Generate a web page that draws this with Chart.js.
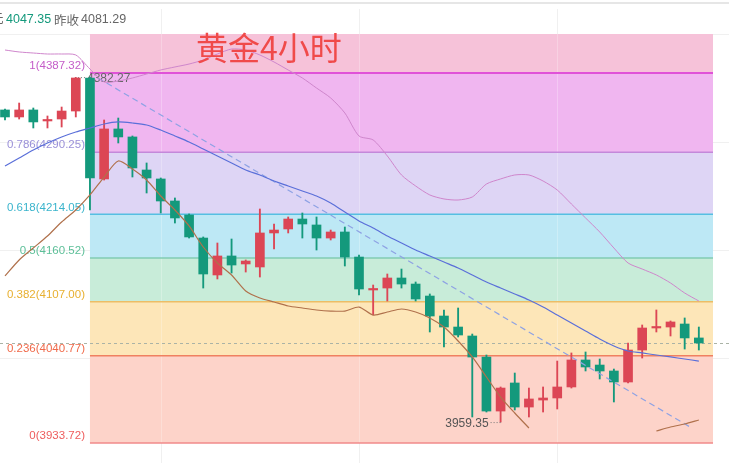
<!DOCTYPE html>
<html>
<head>
<meta charset="utf-8">
<script src="https://cdn.jsdelivr.net/npm/chart.js@4.4.1/dist/chart.umd.min.js"></script>
<style>
  html, body { margin: 0; padding: 0; background: #fff; }
  #wrap { width: 729px; height: 463px; position: relative; }
</style>
</head>
<body>
<div id="wrap"><canvas id="gold-graphic" width="729" height="463"></canvas></div>
<script>
// 4h candles, oldest first (index 0 = left edge)
const candleOpen = [4342.0, 4333.4, 4342.0, 4328.5, 4330.9, 4340.7, 4381.2, 4257.4, 4318.7, 4308.9,
    4268.4, 4257.4, 4230.4, 4213.2, 4185.0, 4139.7, 4163.0, 4153.2, 4149.5, 4191.2,
    4196.1, 4208.3, 4201.0, 4185.0, 4192.4, 4161.7, 4121.3, 4123.7, 4136.0, 4128.6,
    4113.9, 4089.4, 4075.9, 4064.9, 4039.1, 3972.9, 4007.3, 3977.8, 3986.4, 3988.9,
    4002.4, 4035.5, 4029.3, 4022.0, 4008.5, 4047.7, 4074.7, 4075.9, 4079.6, 4062.5];
const candleHigh = [4343.2, 4350.5, 4344.4, 4334.6, 4345.6, 4381.8, 4382.27, 4329.7, 4332.1, 4310.1,
    4277.0, 4258.6, 4234.1, 4214.5, 4186.3, 4178.9, 4183.8, 4158.1, 4220.6, 4202.2,
    4210.8, 4215.7, 4210.8, 4194.8, 4198.5, 4164.2, 4127.4, 4140.9, 4147.0, 4131.1,
    4116.4, 4096.8, 4099.2, 4067.3, 4041.6, 4002.4, 4019.5, 4001.1, 4002.4, 4034.2,
    4044.1, 4045.3, 4036.7, 4024.4, 4056.3, 4078.4, 4096.8, 4083.3, 4087.0, 4075.9];
const candleLow = [4329.7, 4330.9, 4319.9, 4319.9, 4321.1, 4333.4, 4219.4, 4256.1, 4301.5, 4259.8,
    4240.2, 4215.7, 4203.4, 4185.0, 4123.7, 4134.8, 4142.1, 4143.3, 4137.2, 4171.5,
    4191.2, 4185.0, 4170.3, 4182.6, 4150.7, 4115.2, 4090.6, 4107.8, 4123.7, 4107.8,
    4069.8, 4051.4, 4063.7, 3965.6, 3971.7, 3959.35, 3974.2, 3965.6, 3971.7, 3975.4,
    4001.1, 4022.0, 4012.2, 3984.0, 4007.3, 4037.9, 4069.8, 4064.9, 4048.9, 4047.7];
const candleClose = [4333.4, 4342.0, 4327.3, 4329.7, 4340.7, 4381.2, 4258.6, 4318.7, 4308.9, 4270.9,
    4258.6, 4230.4, 4209.6, 4186.3, 4140.9, 4163.0, 4151.9, 4156.8, 4191.2, 4194.8,
    4208.3, 4202.2, 4185.0, 4192.4, 4161.7, 4122.5, 4122.5, 4136.0, 4128.6, 4110.3,
    4089.4, 4075.9, 4066.1, 4039.1, 3972.9, 4001.1, 3977.8, 3987.7, 3988.9, 4002.4,
    4035.5, 4026.9, 4022.0, 4008.5, 4047.7, 4074.7, 4075.9, 4082.1, 4062.5, 4056.3];

// bollinger bands
const upperBand = [4415.5, 4413.1, 4411.8, 4410.6, 4410.6, 4409.4, 4392.2, 4376.3, 4377.5, 4381.2,
    4386.1, 4391.0, 4394.7, 4398.3, 4403.3, 4410.6, 4416.7, 4415.5, 4409.4, 4400.8,
    4391.0, 4381.2, 4368.9, 4356.7, 4338.3, 4310.1, 4305.2, 4285.6, 4262.3, 4248.8,
    4237.8, 4232.9, 4231.6, 4235.3, 4251.2, 4257.4, 4262.3, 4262.3, 4254.9, 4243.9,
    4226.7, 4209.6, 4192.4, 4172.8, 4154.4, 4147.0, 4139.7, 4129.9, 4117.6, 4107.8];
const midBand = [4273.3, 4283.1, 4292.9, 4301.5, 4308.9, 4315.0, 4319.9, 4324.8, 4327.3, 4326.0,
    4323.6, 4317.4, 4310.1, 4302.7, 4294.1, 4285.6, 4277.0, 4268.4, 4262.3, 4254.9,
    4248.8, 4242.7, 4236.5, 4227.9, 4216.9, 4205.9, 4197.3, 4187.5, 4178.9, 4170.3,
    4163.0, 4155.6, 4148.3, 4139.7, 4131.1, 4123.7, 4116.4, 4109.0, 4100.4, 4090.6,
    4080.8, 4071.0, 4061.2, 4052.6, 4046.5, 4044.1, 4041.6, 4039.2, 4036.7, 4034.2];
const lowerBand = [4138.5, 4158.1, 4172.8, 4187.5, 4204.7, 4219.4, 4237.8, 4259.8, 4279.4, 4269.6,
    4256.1, 4236.5, 4219.4, 4199.8, 4174.0, 4154.4, 4139.7, 4120.1, 4111.5, 4106.6,
    4101.7, 4099.2, 4096.8, 4095.5, 4095.5, 4100.4, 4090.6, 4094.3, 4098.0, 4094.3,
    4087.0, 4075.9, 4058.8, 4039.2, 4014.6, 3990.1, 3970.5, 3952.1, null, null,
    null, null, null, null, null, null, 3948.4, 3953.3, 3957.0, 3961.9];

// dashed trend line: [index, price]
const trendStart = [6.57, 4381.2];
const trendEnd = [48.5, 3952.1];

// fibonacci retracement
const fibRatios = ['1', '0.786', '0.618', '0.5', '0.382', '0.236', '0'];
const fibPrices = [4387.32, 4290.25, 4214.05, 4160.52, 4107.00, 4040.77, 3933.72];
const fibTop = 4435.1;
const fibStartIndex = 6.0;
const fibEndIndex = 50.0;
const bandColors = ['#f6c2d9', '#f0b6f0', '#ded5f5', '#bde8f5', '#c8ecd9', '#fde6b8', '#fdd3c9'];
const levelColors = ['#e052d8', '#c488da', '#55bfe2', '#82cdb2', '#ecbd66', '#f08060', '#f08a8a'];
const labelColors = ['#c45cc8', '#9a90d8', '#3ab4cc', '#5cbf98', '#e8b030', '#f06a4a', '#ee5c5c'];

const gridIndex = [11, 25, 39];
const gridPrices = [4435.1, 4302.7, 4170.3, 4037.9];

const red = '#dc4655';
const green = '#14997c';
const candleColors = candleOpen.map((o, i) => candleClose[i] >= o ? red : green);

const fibPlugin = {
    id: 'fib',
    beforeDatasetsDraw(chart) {
        const { ctx, scales: { x, y } } = chart;
        ctx.save();
        // faint grid
        ctx.strokeStyle = '#f0f0f0';
        ctx.lineWidth = 1;
        gridPrices.forEach(p => {
            const py = Math.round(y.getPixelForValue(p)) + 0.5;
            ctx.beginPath(); ctx.moveTo(0, py); ctx.lineTo(chart.width, py); ctx.stroke();
        });
        gridIndex.forEach(g => {
            const px = Math.round(x.getPixelForValue(g)) + 0.5;
            ctx.beginPath(); ctx.moveTo(px, 0); ctx.lineTo(px, chart.height); ctx.stroke();
        });

        const x0 = x.getPixelForValue(fibStartIndex);
        const x1 = x.getPixelForValue(fibEndIndex);
        const tops = [fibTop].concat(fibPrices.slice(0, -1));
        tops.forEach((t, i) => {
            const yt = y.getPixelForValue(t);
            const yb = y.getPixelForValue(fibPrices[i]);
            ctx.fillStyle = bandColors[i];
            ctx.fillRect(x0, yt, x1 - x0, yb - yt);
        });
        gridIndex.forEach(g => {
            const px = Math.round(x.getPixelForValue(g)) + 0.5;
            ctx.strokeStyle = 'rgba(255,255,255,0.25)';
            ctx.beginPath(); ctx.moveTo(px, y.getPixelForValue(fibTop)); ctx.lineTo(px, y.getPixelForValue(fibPrices[6])); ctx.stroke();
        });

        fibPrices.forEach((p, i) => {
            const py = y.getPixelForValue(p);
            ctx.strokeStyle = levelColors[i];
            ctx.lineWidth = i === 0 ? 2 : 1.5;
            ctx.beginPath(); ctx.moveTo(x0, py); ctx.lineTo(x1, py); ctx.stroke();
            ctx.fillStyle = labelColors[i];
            ctx.font = '11.5px "Liberation Sans", sans-serif';
            ctx.textAlign = 'right';
            ctx.textBaseline = 'middle';
            ctx.fillText(fibRatios[i] + '(' + p.toFixed(2) + ')', x0 - 5, py - 7);
        });

        // last price dashed line
        const lastClose = candleClose[candleClose.length - 1];
        const ly = Math.round(y.getPixelForValue(lastClose)) + 0.5;
        ctx.strokeStyle = '#aab3a6';
        ctx.lineWidth = 1;
        ctx.setLineDash([3, 3]);
        ctx.beginPath(); ctx.moveTo(0, ly); ctx.lineTo(chart.width, ly); ctx.stroke();
        ctx.setLineDash([]);

        // high marker
        const hi = Math.max(...candleHigh);
        const hiIdx = candleHigh.indexOf(hi);
        const hy = y.getPixelForValue(hi);
        const hx = x.getPixelForValue(hiIdx);
        ctx.fillStyle = '#666';
        ctx.font = '12px "Liberation Sans", sans-serif';
        ctx.textAlign = 'left';
        ctx.fillText(hi.toFixed(2), hx - 3, hy + 2);
        ctx.strokeStyle = '#777';
        ctx.setLineDash([1, 2]);
        ctx.beginPath(); ctx.moveTo(hx - 15, hy + 0.5); ctx.lineTo(hx - 4, hy + 0.5); ctx.stroke();
        ctx.setLineDash([]);
        ctx.restore();
    },
    afterDatasetsDraw(chart) {
        const { ctx, scales: { x, y } } = chart;
        ctx.save();
        // low marker
        const lo = Math.min(...candleLow);
        const loIdx = candleLow.indexOf(lo);
        const lx = x.getPixelForValue(loIdx);
        const lyy = y.getPixelForValue(lo);
        ctx.fillStyle = '#555';
        ctx.font = '12px "Liberation Sans", sans-serif';
        ctx.textAlign = 'right';
        ctx.textBaseline = 'middle';
        ctx.fillText(lo.toFixed(2), lx - 12, lyy + 2);
        ctx.strokeStyle = '#777';
        ctx.setLineDash([1, 2]);
        ctx.beginPath(); ctx.moveTo(lx - 10, lyy + 0.5); ctx.lineTo(lx, lyy + 0.5); ctx.stroke();
        ctx.setLineDash([]);

        // title
        ctx.fillStyle = '#f04a4a';
        ctx.font = '32px "Noto Sans CJK SC", sans-serif';
        ctx.textAlign = 'left';
        ctx.fillText('黄金4小时', 196, 48);

        // header
        ctx.fillStyle = '#fff';
        ctx.fillRect(0, 0, chart.width, 9);
        ctx.strokeStyle = '#e6e6e6';
        ctx.lineWidth = 2;
        ctx.beginPath(); ctx.moveTo(0, 3); ctx.lineTo(chart.width, 3); ctx.stroke();
        ctx.font = '12.5px "Liberation Sans", "Noto Sans CJK SC", sans-serif';
        ctx.fillStyle = '#666';
        ctx.fillText('元', -9, 20);
        ctx.fillStyle = '#14997c';
        ctx.fillText('4047.35', 6, 20);
        ctx.fillStyle = '#666';
        ctx.font = '12.5px "Noto Sans CJK SC", sans-serif';
        ctx.fillText('昨收', 54, 20);
        ctx.font = '12.5px "Liberation Sans", sans-serif';
        ctx.fillText('4081.29', 81, 20);
        ctx.restore();
    }
};

const pts = arr => arr.map((v, i) => ({ x: i, y: v }));

new Chart(document.querySelector('#gold-graphic'), {
    type: 'bar',
    data: {
        datasets: [
            {
                type: 'line', label: 'upper', data: pts(upperBand),
                borderColor: '#cf86cc', borderWidth: 1, pointRadius: 0, tension: 0.25, order: 1
            },
            {
                type: 'line', label: 'mid', data: pts(midBand),
                borderColor: '#5a6fd9', borderWidth: 1.2, pointRadius: 0, tension: 0.25, order: 1
            },
            {
                type: 'line', label: 'lower', data: pts(lowerBand), spanGaps: false,
                borderColor: '#b0714c', borderWidth: 1.2, pointRadius: 0, tension: 0.25, order: 1
            },
            {
                type: 'line', label: 'trend',
                data: [{ x: trendStart[0], y: trendStart[1] }, { x: trendEnd[0], y: trendEnd[1] }],
                borderColor: '#8ea2e4', borderWidth: 1.2, borderDash: [6, 4], pointRadius: 0, order: 1
            },
            {
                label: 'body',
                data: candleOpen.map((o, i) => ({ x: i, y: [o, candleClose[i]] })),
                backgroundColor: candleColors,
                barThickness: 9, minBarLength: 1.5, grouped: false, order: 2
            },
            {
                label: 'wick',
                data: candleHigh.map((h, i) => ({ x: i, y: [candleLow[i], h] })),
                backgroundColor: candleColors,
                barThickness: 1.2, grouped: false, order: 3
            }
        ]
    },
    options: {
        responsive: false,
        animation: false,
        layout: { padding: 0 },
        scales: {
            x: { type: 'linear', min: -0.353, max: 51.13, offset: false, display: false },
            y: { min: 3909.2, max: 4476.8, display: false }
        },
        plugins: {
            legend: { display: false },
            tooltip: { enabled: false }
        }
    },
    plugins: [fibPlugin]
});
</script>
</body>
</html>
